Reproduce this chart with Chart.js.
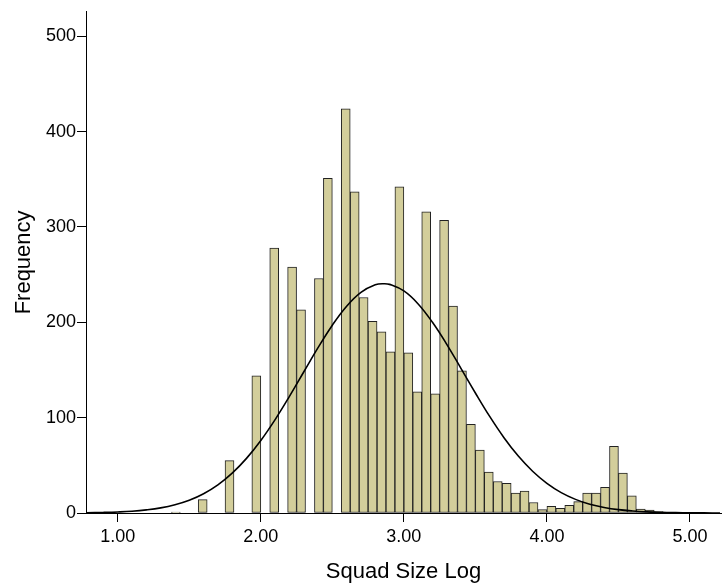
<!DOCTYPE html>
<html>
<head>
<meta charset="utf-8">
<script src="https://cdn.jsdelivr.net/npm/chart.js@4"></script>
<style>
  html, body { margin: 0; padding: 0; background: #fff; }
  #wrap { width: 723px; height: 588px; }
</style>
</head>
<body>
<div id="wrap"><canvas id="histChart"></canvas></div>
<script>
// histogram bins (lower edge, width 1/16) and their counts
const binStarts = [
  1.375, 1.4375, 1.5, 1.5625, 1.625, 1.6875, 1.75, 1.8125, 1.875, 1.9375,
  2.0, 2.0625, 2.125, 2.1875, 2.25, 2.3125, 2.375, 2.4375, 2.5, 2.5625,
  2.625, 2.6875, 2.75, 2.8125, 2.875, 2.9375, 3.0, 3.0625, 3.125, 3.1875,
  3.25, 3.3125, 3.375, 3.4375, 3.5, 3.5625, 3.625, 3.6875, 3.75, 3.8125,
  3.875, 3.9375, 4.0, 4.0625, 4.125, 4.1875, 4.25, 4.3125, 4.375, 4.4375,
  4.5, 4.5625, 4.625, 4.6875, 4.75
];
const counts = [
  1, 0, 0, 14, 0, 0, 55, 0, 0, 144,
  0, 278, 0, 258, 213, 0, 246, 351, 0, 424,
  337, 226, 201, 190, 169, 342, 168, 127, 316, 125,
  307, 217, 149, 93, 66, 43, 33, 31, 21, 23,
  11, 3.5, 7, 5, 8, 12, 21, 21, 27, 70,
  42, 18, 4, 3, 1.5
];
const binWidth = 0.0625;

// normal curve
const curveX = [
  0.78, 0.9, 1.0, 1.1, 1.2, 1.3, 1.4, 1.5, 1.6, 1.7, 1.8, 1.9,
  2.0, 2.1, 2.2, 2.3, 2.4, 2.5, 2.6, 2.7, 2.8, 2.86, 2.9,
  3.0, 3.1, 3.2, 3.3, 3.4, 3.5, 3.6, 3.7, 3.8, 3.9,
  4.0, 4.1, 4.2, 4.3, 4.4, 4.5, 4.6, 4.7, 4.8, 4.9, 5.0, 5.1, 5.21
];
const curveY = [
  0.2, 0.6, 1.1, 1.9, 3.3, 5.4, 8.7, 13.4, 20.2, 29.5, 41.8, 57.3,
  76.1, 98.0, 122.3, 147.9, 173.4, 197.0, 216.9, 231.4, 239.3, 240.5, 239.8,
  232.9, 219.3, 200.0, 176.9, 151.5, 125.9, 101.3, 79.0, 59.7, 43.8,
  31.1, 21.4, 14.3, 9.2, 5.8, 3.5, 2.1, 1.2, 0.65, 0.35, 0.18, 0.09, 0.04
];

const xMin = 0.778, xMax = 5.217;
const yMin = 0, yMax = 525.7;
const xTicks = [1, 2, 3, 4, 5];

const barPoints = binStarts.map((b, i) => ({ x: b + binWidth / 2, y: counts[i] }));
const curvePoints = curveX.map((x, i) => ({ x, y: curveY[i] }));

const font = 'Liberation Sans, Arial, sans-serif';

new Chart(document.getElementById('histChart').getContext('2d'), {
  type: 'bar',
  data: {
    datasets: [
      {
        type: 'line',
        data: curvePoints,
        borderColor: '#000',
        borderWidth: 1.6,
        pointRadius: 0,
        tension: 0.4,
        fill: false,
        order: 0
      },
      {
        type: 'bar',
        data: barPoints,
        backgroundColor: '#d3ce9b',
        borderColor: '#222',
        borderWidth: 1,
        borderSkipped: false,
        barPercentage: 1,
        categoryPercentage: 1,
        order: 1
      }
    ]
  },
  options: {
    responsive: true,
    maintainAspectRatio: false,
    animation: false,
    layout: { padding: { top: 8, right: 2, left: 0, bottom: 0 } },
    plugins: {
      legend: { display: false },
      tooltip: { enabled: false }
    },
    scales: {
      x: {
        type: 'linear',
        min: xMin,
        max: xMax,
        offset: false,
        afterFit: (s) => { s.height = 75; },
        afterBuildTicks: (s) => { s.ticks = xTicks.map(v => ({ value: v })); },
        grid: { display: true, offset: false, drawOnChartArea: false, drawTicks: true, tickLength: 9, color: '#000' },
        border: { display: true, color: '#000', width: 1 },
        ticks: {
          color: '#000',
          font: { family: font, size: 18 },
          padding: 4,
          maxRotation: 0,
          callback: (v) => Number(v).toFixed(2)
        },
        title: {
          display: true,
          text: 'Squad Size Log',
          color: '#000',
          font: { family: font, size: 22 },
          padding: { top: 0, bottom: 3 }
        }
      },
      y: {
        min: yMin,
        max: yMax,
        afterFit: (s) => { s.width = 86; },
        ticks: {
          stepSize: 100,
          includeBounds: false,
          color: '#000',
          font: { family: font, size: 18 },
          padding: 1
        },
        grid: { display: true, drawOnChartArea: false, drawTicks: true, tickLength: 9, color: '#000' },
        border: { display: true, color: '#000', width: 1 },
        title: {
          display: true,
          text: 'Frequency',
          color: '#000',
          font: { family: font, size: 22 },
          padding: { top: 11, bottom: 0 }
        }
      }
    }
  }
});
</script>
</body>
</html>
